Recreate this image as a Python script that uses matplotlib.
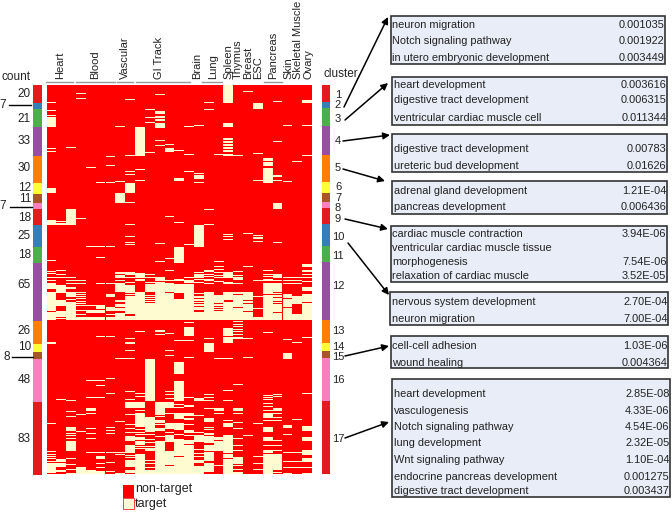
import matplotlib
matplotlib.use('Agg')
import matplotlib.pyplot as plt
from matplotlib.colors import ListedColormap
from matplotlib.patches import Rectangle
import numpy as np

plt.rcParams['font.family'] = ['Liberation Sans', 'DejaVu Sans']

W, H = 672, 512

# genes per cluster, top to bottom
cluster_sizes = [20, 7, 21, 33, 30, 12, 11, 7, 18, 25, 18, 65, 26, 10, 8, 48, 83]
palette = ['#e41a1c', '#377eb8', '#4daf4a', '#984ea3', '#ff7f00', '#ffff33', '#a65628', '#f781bf']
n_cols = 27

# rows flagged as target for each column, (a, b) is an inclusive run
col_targets = [
    [19, 28, 34, (36, 47), 72, 75, (117, 122), 153, (155, 158), 199, 211, 214, 218, 222, (225, 231), (235, 256), (258, 266), 292, 293, 384, 416, 419, 422, 424, 427, (430, 440)],
    [155, (157, 158), 210, 215, 218, (227, 235), (244, 250), (257, 261), 263, 265, 357, (425, 427), (430, 433), (437, 439)],
    [71, (141, 158), 218, 222, 225, (229, 231), (235, 239), 240, 243, (247, 266), 358, 370, 376, (389, 392), 395, 398, 401, (405, 415), 424, 431, 436, 441],
    [9, 12, 15, 151, 222, 225, 235, 238, 240, 242, 245, 248, 250, 256, 260, (264, 266), 374, 393, (434, 441)],
    [93, 183, 246, 250, (256, 258), (264, 266), 335, 355, (367, 369), 373, 390, 395, 401, 404, 417, (437, 441)],
    [110, 183, 196, 225, (250, 254), (256, 258), (264, 266), 285, 335, 341, 346, 354, 355, 404, 417, (421, 424), 430, 434, (439, 441)],
    [81, 91, 110, 183, 225, (237, 240), (252, 256), 260, (264, 266), 285, 333, 337, 346, 350, 354, 389, 392, 395, 404, 417, 428, 439],
    [47, 109, (123, 133), (212, 214), (216, 218), 222, (225, 234), (244, 246), (249, 251), (253, 256), (259, 266), 310, 382, 417, 419, 441],
    [16, 80, 95, 98, 101, (111, 122), 133, 158, 172, 178, 181, (212, 215), 218, 221, 224, (227, 235), 238, (240, 259), (263, 266), 288, 292, 293, 301, 310, 348, 354, 357, (360, 366), 374, 379, 385, 390, 394, (399, 403), (409, 417), 420, 423, (426, 433), (437, 440)],
    [(48, 80), 96, 108, (214, 218), 220, 222, (235, 266), 280, 350, 353, (360, 366), 369, (373, 388), 391, 394, 397, (400, 402), (404, 408), 410, 413, (419, 441)],
    [27, 36, 42, 76, 215, 218, 221, 224, (226, 234), 237, 239, 241, 243, (245, 246), (248, 266), (311, 358), (377, 393), 397, 402, 406, 410, (413, 415), 426, 430, 434, (438, 441)],
    [10, 12, (30, 32), (35, 36), (39, 40), 43, (44, 48), 63, 68, 180, 200, (218, 222), (224, 253), (255, 266), 278, 280, 283, 287, (360, 374), 376, (381, 383), 385, (390, 392), 399, (405, 441)],
    [67, (72, 75), 149, 197, 210, 222, (225, 234), (236, 266), 282, 301, 307, 329, 346, 348, 351, 354, 356, (360, 366), 373, (384, 390), 394, (398, 405), (416, 431), (433, 441)],
    [74, 79, (106, 108), 156, (184, 201), 220, 222, (226, 234), 235, (243, 266), 290, (315, 327), (336, 358), 363, 366, (373, 378), (384, 391), 397, (402, 418), (419, 421), (423, 428), (430, 441)],
    [47, 78, 98, 181, 218, (222, 224), (226, 261), (263, 266), 269, 271, (275, 284), 290, 309, 355, (364, 365), (373, 375), (378, 380), 385, (392, 394), 398, (403, 407), (409, 416), (417, 441)],
    [46, 100, (102, 106), 110, (159, 183), 213, (215, 218), 220, 224, (236, 237), (240, 241), (243, 244), (246, 247), (249, 250), (252, 255), (258, 266), (356, 358), 375, 394, (398, 405), 414, 418, 422, (426, 428), (433, 441)],
    [19, 27, 141, 158, (210, 212), 215, 217, 220, 222, 225, (235, 266), 288, (293, 302), 351, 354, 355, 358, 367, 371, (378, 382), 389, 391, 395, 397, (399, 406), (409, 415), (417, 426), (430, 439)],
    [78, 200, 206, 209, 213, 216, 218, 223, (239, 247), (249, 250), 252, (254, 255), (257, 266), 310, (367, 369), 373, (400, 402), (405, 415), 432, 437],
    [(0, 19), (43, 44), (46, 47), (60, 61), (64, 65), (67, 68), (71, 72), (74, 75), (78, 80), 169, 172, 175, (212, 218), (224, 225), (235, 243), (246, 266), (276, 284), (286, 292), 310, 347, 358, 381, (384, 388), (398, 402), (403, 417), (419, 423), (425, 441)],
    [80, 195, 211, 216, (218, 221), 225, (235, 236), (239, 251), (253, 266), 268, 272, 274, 277, 280, 283, 286, 288, 340, (367, 369), 373, 383, 390, 396, 401, 409, 415, (423, 430), 432, 436, (440, 441)],
    [7, 168, 206, (235, 243), (245, 247), (249, 256), (258, 266), 288, 309, 398],
    [(20, 26), 77, 108, 170, 171, 173, 174, 177, 222, 240, 253, (264, 266), 384, 422, 430, 436],
    [(83, 85), (88, 91), (94, 110), 210, 212, 215, 217, 220, 222, (225, 237), (239, 266), 281, 346, 352, 355, 357, 361, 365, 369, (373, 377), 381, (389, 393), (400, 403), 409, (415, 417), (419, 441)],
    [18, 64, (102, 104), 108, (134, 140), 178, 212, (215, 218), 222, (225, 234), (236, 237), (239, 240), (242, 244), (246, 247), (249, 257), (259, 266), 351, 353, 354, (367, 369), 373, 377, 381, 403, 409, 415, (419, 437), 440],
    [46, 109, 218, 222, 225, (238, 241), (243, 245), (247, 251), (253, 266), 289, (304, 310), (386, 389), 397, 417, 427, 434, 441],
    [86, 218, 222, 225, (240, 248), (260, 266), 292, 380, 417, 427, 434],
    [(17, 19), 46, 80, 179, (203, 206), (210, 211), 215, 218, 223, (229, 233), (238, 246), (248, 266), 286, 350, (388, 392), (400, 403), (415, 419), (424, 427), 434, 437, 441],
]

tissues = ['Heart', 'Blood', 'Vascular', 'GI Track', 'Brain', 'Lung', 'Spleen', 'Thymus', 'Breast',
           'ESC', 'Pancreas', 'Skin', 'Skeletal Muscle', 'Ovary']
tissue_x = [60, 95, 125, 159, 197, 213, 228, 238, 248, 258, 273, 288, 298, 309]
tissue_spans = [(46, 73), (76, 115), (117, 133), (136, 190), (202, 222), (264, 282)]

count_y = [94, 105, 119, 141, 168, 188, 199, 206, 218, 236, 255, 285, 331, 347, 357, 380, 439]
count_x = [31, 6, 31, 31, 31, 31, 31, 6, 31, 31, 31, 31, 31, 31, 10, 31, 31]
leader_rows = [(9, 31, 105), (10, 32, 207), (12, 33, 356.5)]
cluster_y = [94.5, 105, 119, 141, 168, 187.5, 198, 208, 219, 237, 256, 286, 331, 346.5, 357.5, 380, 439]

# GO term tables: box, term rows, p-values
go_boxes = [
    (391, 16, 665, 64), (392, 77, 667, 125), (392, 134, 667, 172), (392, 181, 667, 214),
    (391, 226, 667, 282), (390, 292, 668, 325), (391, 336, 668, 368), (392, 379, 670, 497),
]
go_terms = [
    [('neuron migration', '0.001035', 24.5), ('Notch signaling pathway', '0.001922', 41), ('in utero embryonic development', '0.003449', 58)],
    [('heart development', '0.003616', 85), ('digestive tract development', '0.006315', 100), ('ventricular cardiac muscle cell', '0.011344', 118)],
    [('digestive tract development', '0.00783', 149), ('ureteric bud development', '0.01626', 166)],
    [('adrenal gland development', '1.21E-04', 191), ('pancreas development', '0.006436', 207)],
    [('cardiac muscle contraction', '3.94E-06', 234), ('ventricular cardiac muscle tissue', '', 248),
     ('morphogenesis', '7.54E-06', 262), ('relaxation of cardiac muscle', '3.52E-05', 276)],
    [('nervous system development', '2.70E-04', 302), ('neuron migration', '7.00E-04', 319)],
    [('cell-cell adhesion', '1.03E-06', 346), ('wound healing', '0.004364', 363)],
    [('heart development', '2.85E-08', 394), ('vasculogenesis', '4.33E-06', 411), ('Notch signaling pathway', '4.54E-06', 427),
     ('lung development', '2.32E-05', 443), ('Wnt signaling pathway', '1.10E-04', 460),
     ('endocrine pancreas development', '0.001275', 477), ('digestive tract development', '0.003437', 491)],
]
arrows = [((344, 107), (388, 17)), ((345, 120), (388, 83)), ((343, 141), (390, 135)), ((343, 169), (385, 181)),
          ((345, 219), (388, 229)), ((348, 243), (389, 295)), ((345, 356), (389, 346)), ((345, 438), (389, 422))]


def px_axes(fig, x0, y0, x1, y1):
    # axes placed by reference pixel box
    return fig.add_axes([x0 / W, 1 - y1 / H, (x1 - x0) / W, (y1 - y0) / H])


n_rows = sum(cluster_sizes)
labels = np.repeat(np.arange(len(cluster_sizes)) % len(palette), cluster_sizes)[:, None]
bar_cmap = ListedColormap(palette)

fig = plt.figure(figsize=(W / 100, H / 100), dpi=100)

# red ground, one cream bar per run so the 1-row lines survive at under 1 px per row
ax = px_axes(fig, 46.5, 85, 312, 474)
ax.set_facecolor('#ff0000')
for c, runs in enumerate(col_targets):
    for run in runs:
        a, b = run if isinstance(run, tuple) else (run, run)
        ax.bar(c, b - a + 1, bottom=a, width=1, align='edge', color='#fdfbcf', linewidth=0)
ax.set_xlim(0, n_cols)
ax.set_ylim(n_rows, 0)
ax.set_xticks([])
ax.set_yticks([])
for s in ax.spines.values():
    s.set_visible(False)

for box in [(33, 85, 41.5, 475), (322, 84.5, 330, 474)]:
    side = px_axes(fig, *box)
    side.imshow(labels, cmap=bar_cmap, aspect='auto', interpolation='nearest', vmin=0, vmax=len(palette) - 1)
    side.axis('off')

# everything else sits on an overlay in pixel coordinates
ov = fig.add_axes([0, 0, 1, 1], zorder=5)
ov.set_xlim(0, W)
ov.set_ylim(H, 0)
ov.axis('off')
ov.patch.set_alpha(0)

for name, x in zip(tissues, tissue_x):
    ov.text(x, 79, name, rotation=90, ha='center', va='bottom', fontsize=8, color='#222222')
for x0, x1 in tissue_spans:
    ov.plot([x0, x1], [81.5, 81.5], color='#999999', lw=1)

ov.text(2, 77, 'count', fontsize=8.5, va='center', color='#222222')
ov.text(324, 74, 'cluster', fontsize=8.5, va='center', color='#222222')
for size, x, y in zip(cluster_sizes, count_x, count_y):
    ov.text(x, y, str(size), fontsize=8.5, ha='right', va='center', color='#222222')
for x0, x1, y in leader_rows:
    ov.plot([x0, x1], [y, y], color='black', lw=1)
for i, y in enumerate(cluster_y):
    ov.text(338, y, str(i + 1), fontsize=8, ha='center', va='center', color='#222222')

for (x0, y0, x1, y1), rows in zip(go_boxes, go_terms):
    ov.add_patch(Rectangle((x0, y0), x1 - x0, y1 - y0, fc='#e9edf7', ec='#333333', lw=1.2))
    for term, p, y in rows:
        ov.text(x0 + 1.5, y, term, fontsize=7.9, va='center', color='#222222')
        ov.text(x1 - 0.5, y, p, fontsize=7.9, ha='right', va='center', color='#222222')

for start, end in arrows:
    ov.annotate('', xy=end, xytext=start,
                arrowprops=dict(arrowstyle='-|>', color='black', lw=1.1, mutation_scale=10, shrinkA=0, shrinkB=0))

ov.add_patch(Rectangle((123, 485), 10.5, 13, fc='#ff0000', ec='none'))
ov.add_patch(Rectangle((123, 498), 10.5, 11, fc='#fdfbcf', ec='#ff0000', lw=0.5))
ov.text(135, 489, 'non-target', fontsize=9, va='center', color='#222222')
ov.text(135, 504, 'target', fontsize=9, va='center', color='#222222')

fig.savefig('out.png', dpi=100)
